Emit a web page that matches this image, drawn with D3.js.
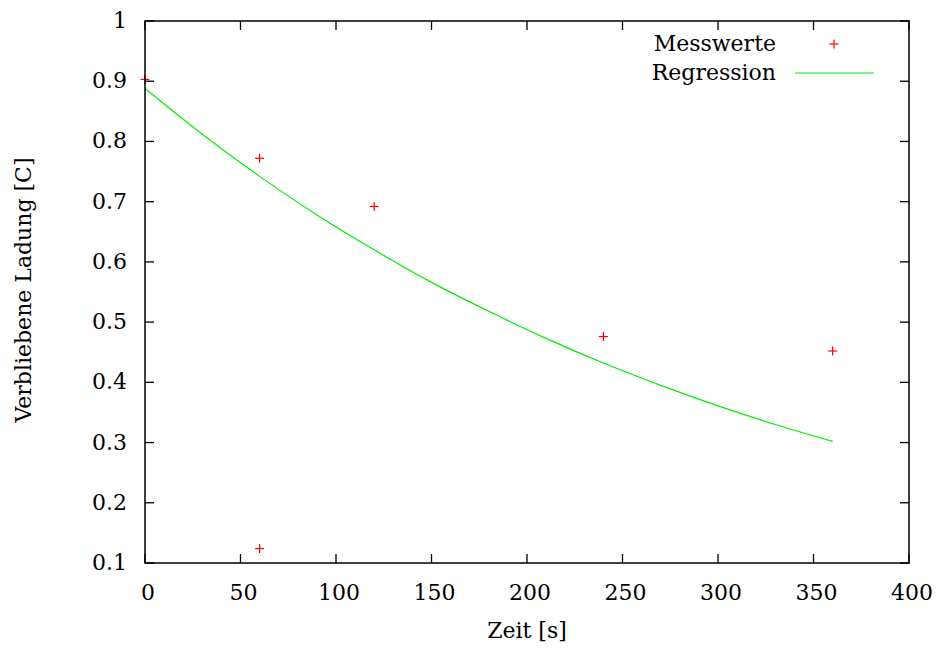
<!DOCTYPE html>
<html>
<head>
<meta charset="utf-8">
<script src="https://cdn.jsdelivr.net/npm/d3@7"></script>
<style>
  body { margin: 0; background: #fff; }
</style>
</head>
<body>
<div class="chart"></div>
<script>
var width = 936, height = 652;
var margin = { top: 21, right: 27, bottom: 89, left: 145 };

// measured values
var messZeit = [0, 60, 60, 120, 240, 360];
var messLadung = [0.903, 0.772, 0.124, 0.692, 0.476, 0.452];

// regression curve
var regZeit = [0, 30, 60, 90, 120, 150, 180, 210, 240, 270, 300, 330, 360];
var regLadung = [0.888, 0.812, 0.742, 0.678, 0.620, 0.566, 0.518, 0.473, 0.432, 0.395, 0.361, 0.330, 0.302];

var xTicks = [0, 50, 100, 150, 200, 250, 300, 350, 400];
var yTicks = [0.1, 0.2, 0.3, 0.4, 0.5, 0.6, 0.7, 0.8, 0.9, 1];

var svg = d3.select('.chart').append('svg')
  .attr('width', width)
  .attr('height', height)
  .style('font-family', "'DejaVu Serif'")
  .style('font-size', '22px');

var x = d3.scaleLinear().domain([0, 400]).range([margin.left, width - margin.right]);
var y = d3.scaleLinear().domain([0.1, 1]).range([height - margin.bottom, margin.top]);

var tick = 9;

// ticks on all four sides, pointing in
var tg = svg.append('g').attr('stroke', '#000').attr('stroke-width', 1.3);
xTicks.forEach(function (t) {
  tg.append('line').attr('x1', x(t)).attr('x2', x(t)).attr('y1', y(0.1)).attr('y2', y(0.1) - tick);
  tg.append('line').attr('x1', x(t)).attr('x2', x(t)).attr('y1', y(1)).attr('y2', y(1) + tick);
});
yTicks.forEach(function (t) {
  tg.append('line').attr('x1', x(0)).attr('x2', x(0) + tick).attr('y1', y(t)).attr('y2', y(t));
  tg.append('line').attr('x1', x(400)).attr('x2', x(400) - tick).attr('y1', y(t)).attr('y2', y(t));
});

svg.selectAll('.xl').data(xTicks).enter().append('text')
  .attr('x', function (d) { return x(d) + 3; })
  .attr('y', 600)
  .attr('text-anchor', 'middle')
  .text(function (d) { return d; });

svg.selectAll('.yl').data(yTicks).enter().append('text')
  .attr('x', 127)
  .attr('y', function (d) { return y(d) + 7; })
  .attr('text-anchor', 'end')
  .text(function (d) { return d; });

// regression line
var line = d3.line()
  .x(function (d) { return x(d[0]); })
  .y(function (d) { return y(d[1]); })
  .curve(d3.curveMonotoneX);

svg.append('path')
  .datum(d3.zip(regZeit, regLadung))
  .attr('d', line)
  .attr('fill', 'none')
  .attr('stroke', '#00ee00')
  .attr('stroke-width', 1.2);

// points as "+" markers
function plus(g, cx, cy) {
  g.append('line').attr('x1', cx - 4.5).attr('x2', cx + 4.5).attr('y1', cy).attr('y2', cy);
  g.append('line').attr('x1', cx).attr('x2', cx).attr('y1', cy - 4.5).attr('y2', cy + 4.5);
}
var pg = svg.append('g').attr('stroke', '#ff0000').attr('stroke-width', 1.2);
d3.zip(messZeit, messLadung).forEach(function (d) {
  plus(pg, x(d[0]), y(d[1]));
});

// frame
svg.append('rect')
  .attr('x', x(0)).attr('y', y(1))
  .attr('width', x(400) - x(0))
  .attr('height', y(0.1) - y(1))
  .attr('fill', 'none')
  .attr('stroke', '#000')
  .attr('stroke-width', 1.5);

// legend
svg.append('text').attr('x', 776).attr('y', 51).attr('text-anchor', 'end').text('Messwerte');
plus(svg.append('g').attr('stroke', '#ff0000').attr('stroke-width', 1.2), 834, 44);
svg.append('text').attr('x', 776).attr('y', 80).attr('text-anchor', 'end').text('Regression');
svg.append('line').attr('x1', 795).attr('x2', 874).attr('y1', 73).attr('y2', 73)
  .attr('stroke', '#00ee00').attr('stroke-width', 1.2);

// axis titles
svg.append('text')
  .attr('x', 527).attr('y', 638)
  .attr('text-anchor', 'middle')
  .text('Zeit [s]');

svg.append('text')
  .attr('transform', 'translate(31,290)rotate(-90)')
  .attr('text-anchor', 'middle')
  .text('Verbliebene Ladung [C]');
</script>
</body>
</html>
